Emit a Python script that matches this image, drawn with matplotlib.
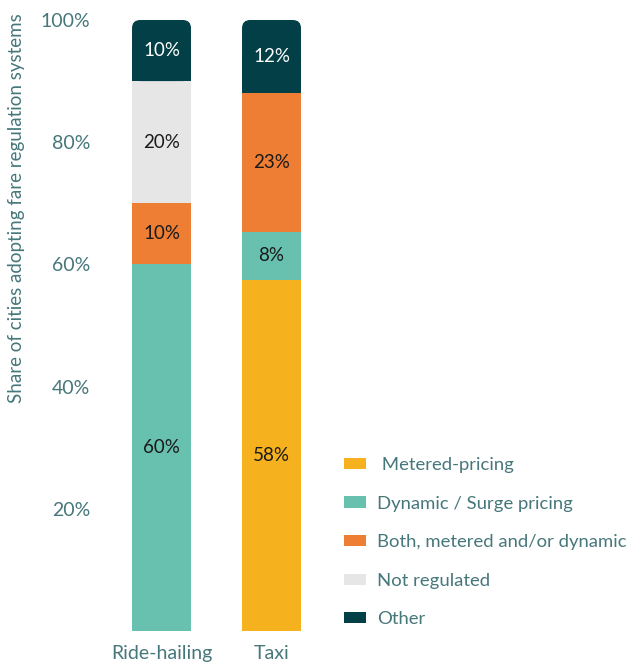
import matplotlib.pyplot as plt
from matplotlib.patches import FancyBboxPatch, Rectangle, Patch

# fare regulation shares by mode (%)
modes = ['Ride-hailing', 'Taxi']
categories = [' Metered-pricing', 'Dynamic / Surge pricing',
              'Both, metered and/or dynamic', 'Not regulated', 'Other']
metered = [0, 58]
dynamic = [60, 8]
both = [10, 23]
not_reg = [20, 0]
other = [10, 12]

colors = ['#F5B21E', '#68C0AE', '#EE7E33', '#E6E6E6', '#033F47']
label_colors = ['#1a1a1a', '#1a1a1a', '#1a1a1a', '#1a1a1a', 'white']
TXT = '#46777B'

plt.rcParams['font.family'] = ['Lato', 'DejaVu Sans']

fig = plt.figure(figsize=(6.34, 6.68), dpi=100)
ax = fig.add_axes([100/634, 37/668, 230/634, 611/668])

series = [metered, dynamic, both, not_reg, other]
totals = [sum(s[i] for s in series) for i in range(len(modes))]
x = [0, 1]
w = 0.536
radius = 0.075

bottoms = [0.0, 0.0]
for k, vals in enumerate(series):
    h = [v / t * 100 for v, t in zip(vals, totals)]
    bars = ax.bar(x, h, w, bottom=bottoms, color=colors[k], linewidth=0)
    for i, b in enumerate(bars):
        if vals[i] == 0:
            continue
        cy = bottoms[i] + h[i] / 2
        ax.text(x[i], cy, f'{vals[i]}%', ha='center', va='center',
                fontsize=13.5, color=label_colors[k], zorder=3)
        # round the top corners of the last segment
        if k == len(series) - 1:
            b.set_visible(False)
            aspect = (100 / 611) / (1 / 110)
            ax.add_patch(FancyBboxPatch(
                (b.get_x(), b.get_y()), b.get_width(), b.get_height(),
                boxstyle=f'round,pad=0,rounding_size={radius}',
                mutation_aspect=aspect, fc=colors[k], lw=0, zorder=1))
            ax.add_patch(Rectangle((b.get_x(), b.get_y()), b.get_width(),
                                   b.get_height() / 2, fc=colors[k], lw=0,
                                   zorder=1))
    bottoms = [bt + hh for bt, hh in zip(bottoms, h)]

ax.set_xlim(-61.5/110, 1 + 58.5/110)
ax.set_ylim(0, 100)
ax.set_yticks([20, 40, 60, 80, 100])
ax.set_yticklabels(['20%', '40%', '60%', '80%', '100%'])
ax.set_xticks(x)
ax.set_xticklabels(modes)
ax.tick_params(length=0, labelsize=14, colors=TXT, pad=10)
ax.tick_params(axis='y', pad=7)
for s in ax.spines.values():
    s.set_visible(False)

fig.text(17/634, 1 - 13/668, 'Share of cities adopting fare regulation systems',
         rotation=90, ha='center', va='top', fontsize=13.5, color=TXT)

handles = [Patch(fc=c, lw=0) for c in colors]
leg = fig.legend(handles, categories, loc='upper left',
                 bbox_to_anchor=(344/634, 1 - 457/668), frameon=False,
                 fontsize=13.3, handlelength=1.2, handleheight=0.55,
                 handletextpad=0.6, labelspacing=1.22, borderaxespad=0,
                 borderpad=0)
for t in leg.get_texts():
    t.set_color(TXT)

fig.savefig('out.png', dpi=100)
